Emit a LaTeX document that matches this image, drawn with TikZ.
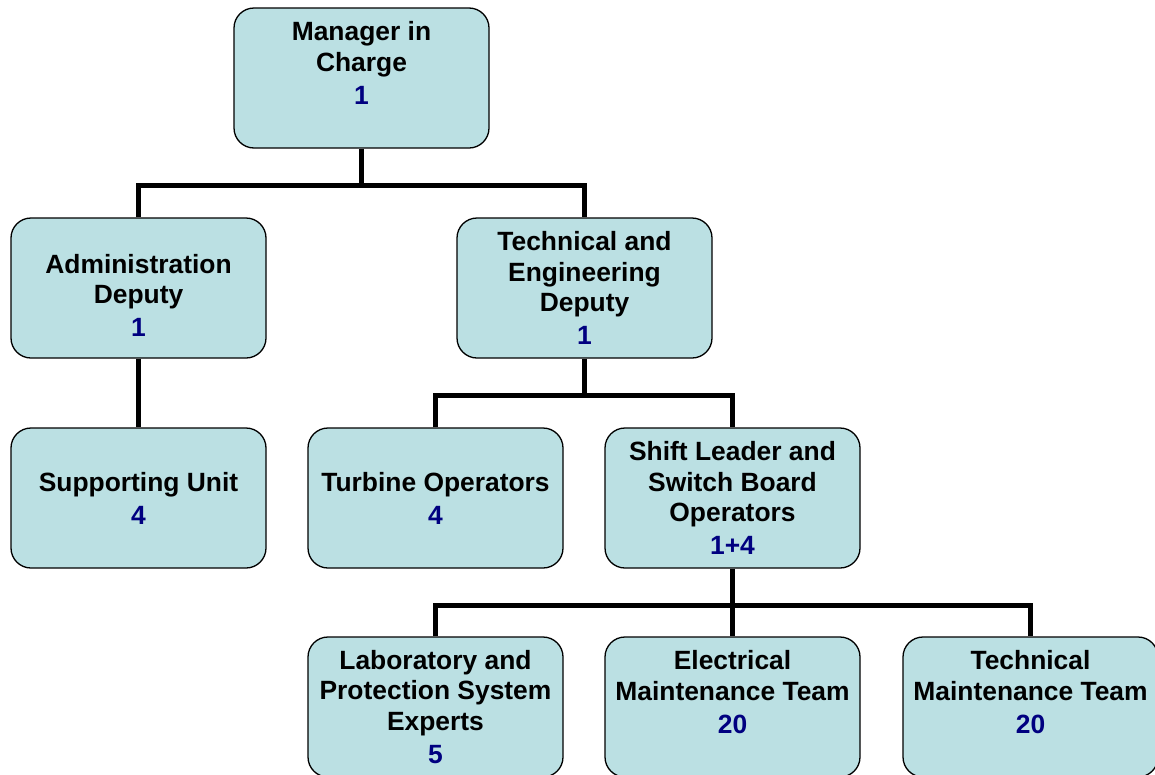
\documentclass[tikz,border=0pt]{standalone}
\usepackage{fontspec}
\setmainfont{Liberation Sans}
\definecolor{boxfill}{RGB}{187,224,227}
\definecolor{navy}{RGB}{0,0,128}
\newcommand{\cnt}[1]{{\color{navy}#1}}
\begin{document}
\begin{tikzpicture}[x=1pt,y=-1pt,
  orgbox/.style={draw=black, line width=1.3pt, fill=boxfill, rounded corners=20pt,
    minimum width=255pt, minimum height=140pt, align=center, inner sep=0pt,
    font=\fontsize{26.4}{30.5}\selectfont\bfseries},
  conn/.style={draw=black, line width=5pt, line join=miter}]
\useasboundingbox (0,0) rectangle (1155,774);
\clip (0,0) rectangle (1155,774);
\coordinate (bus1) at (361.5,185);
\coordinate (bus2) at (584.5,395.5);
\coordinate (bus3) at (732.5,605);
\node[orgbox] (mgr) at (361.5,78) {Manager in\\Charge\\[2.5pt]\cnt{1}\\~};
\node[orgbox] (admin) at (138.5,288) {\rule{0pt}{33.5pt}Administration\\Deputy\\[2.5pt]\cnt{1}};
\node[orgbox] (tech) at (584.5,288) {Technical and\\Engineering\\Deputy\\[2.5pt]\cnt{1}};
\node[orgbox] (supp) at (138.5,498) {Supporting Unit\\[2.5pt]\cnt{4}};
\node[orgbox] (turb) at (435.5,498) {Turbine Operators\\[2.5pt]\cnt{4}};
\node[orgbox] (shift) at (732.5,498) {Shift Leader and\\Switch Board\\Operators\\[2.5pt]\cnt{1+4}};
\node[orgbox] (lab) at (435.5,707) {Laboratory and\\Protection System\\Experts\\[2.5pt]\cnt{5}};
\node[orgbox] (elec) at (732.5,707) {Electrical\\Maintenance Team\\[2.5pt]\cnt{20}\\~};
\node[orgbox] (tmaint) at (1030.5,707) {Technical\\Maintenance Team\\[2.5pt]\cnt{20}\\~};
\draw[conn] (mgr.south) -- (bus1);
\draw[conn] (admin.north) -- (admin.north |- bus1) -- (tech.north |- bus1) -- (tech.north);
\draw[conn] (admin.south) -- (supp.north);
\draw[conn] (tech.south) -- (bus2);
\draw[conn] (turb.north) -- (turb.north |- bus2) -- (shift.north |- bus2) -- (shift.north);
\draw[conn] (shift.south) -- (bus3);
\draw[conn] (lab.north) -- (lab.north |- bus3) -- (tmaint.north |- bus3) -- (tmaint.north);
\draw[conn] (bus3) -- (elec.north);
\end{tikzpicture}
\end{document}
